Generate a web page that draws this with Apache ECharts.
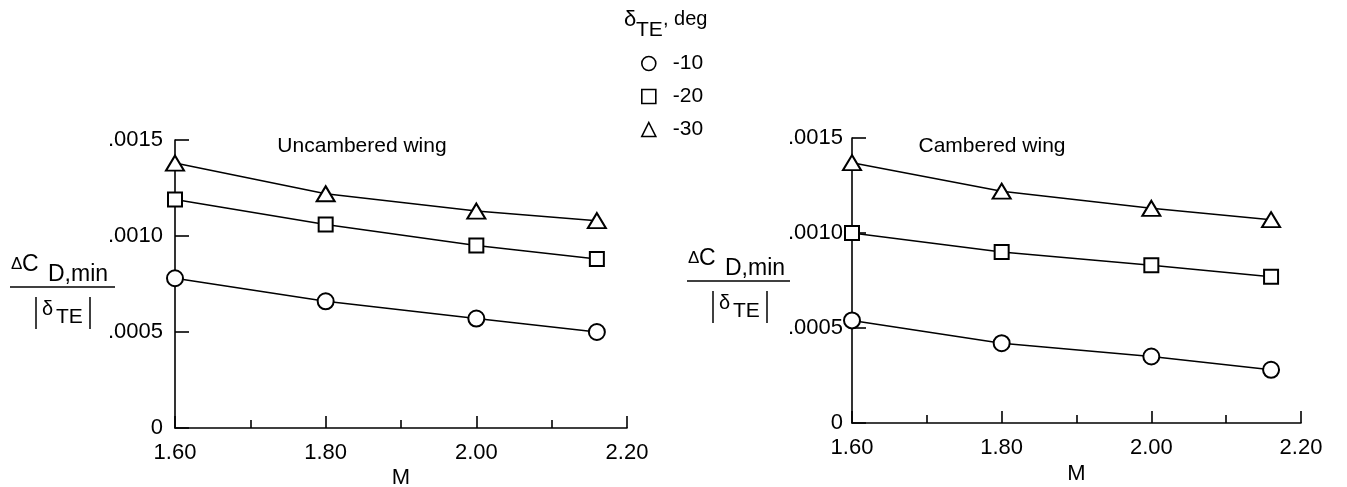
<!DOCTYPE html>
<html>
<head>
<meta charset="utf-8">
<script src="https://cdn.jsdelivr.net/npm/echarts@6/dist/echarts.min.js"></script>
<style>
  html, body { margin: 0; padding: 0; background: #fff; }
  #chart { width: 1347px; height: 487px; }
</style>
</head>
<body>
<div id="chart"></div>
<script>
// Mach numbers (x) and dCD,min/|dTE| values
var mach = [1.60, 1.80, 2.00, 2.16];
var uncamb10 = [0.00078, 0.00066, 0.00057, 0.00050];
var uncamb20 = [0.00119, 0.00106, 0.00095, 0.00088];
var uncamb30 = [0.00138, 0.00122, 0.00113, 0.00108];
var camb10 = [0.00054, 0.00042, 0.00035, 0.00028];
var camb20 = [0.00100, 0.00090, 0.00083, 0.00077];
var camb30 = [0.00137, 0.00122, 0.00113, 0.00107];
var deflections = ['-10', '-20', '-30'];
var symbols = ['emptyCircle', 'emptyRect', 'emptyTriangle'];
var symbolSizes = [16, 14, [18, 15]];

var FONT = 'Liberation Sans, Arial, sans-serif';

function pairs(ys) {
    return mach.map(function (m, i) { return [m, ys[i]]; });
}

function yLabel(v) {
    if (v === 0) return '0';
    return v.toFixed(4).replace(/^0/, '');
}

function xAxisFor(idx, gap) {
    return {
        type: 'value',
        gridIndex: idx,
        min: 1.6,
        max: 2.2,
        interval: 0.2,
        name: 'M',
        nameLocation: 'middle',
        nameGap: gap,
        nameMoveOverlap: false,
        nameTextStyle: { color: '#000', fontSize: 22, fontFamily: FONT },
        axisLine: { lineStyle: { color: '#000', width: 1.6 } },
        axisTick: { inside: true, length: 12, lineStyle: { color: '#000', width: 1.6 } },
        minorTick: { show: true, splitNumber: 2, length: 8, lineStyle: { color: '#000', width: 1.6 } },
        splitLine: { show: false },
        axisLabel: {
            margin: 14,
            color: '#000',
            fontSize: 22,
            fontFamily: FONT,
            formatter: function (v) { return v.toFixed(2); }
        }
    };
}

function yAxisFor(idx, margin) {
    return {
        type: 'value',
        gridIndex: idx,
        min: 0,
        max: 0.0015,
        interval: 0.0005,
        axisLine: { show: true, lineStyle: { color: '#000', width: 1.6 } },
        axisTick: { show: true, inside: true, length: 14, lineStyle: { color: '#000', width: 1.6 } },
        splitLine: { show: false },
        axisLabel: {
            margin: margin,
            color: '#000',
            fontSize: 22,
            fontFamily: FONT,
            formatter: yLabel
        }
    };
}

function seriesFor(idx, name, k, ys) {
    return {
        name: name,
        type: 'line',
        xAxisIndex: idx,
        yAxisIndex: idx,
        data: pairs(ys),
        symbol: symbols[k],
        symbolSize: symbolSizes[k],
        color: '#000',
        itemStyle: { color: '#000', borderWidth: 1.6 },
        lineStyle: { color: '#000', width: 1.5 },
        z: 3
    };
}

// fraction label dCD,min / |dTE| drawn as plain text pieces
function fraction(x0, lineY, width) {
    return [
        { type: 'text', x: x0 + 1, y: lineY - 31, style: { text: '\u0394', fontSize: 17, fontFamily: FONT, fill: '#000' } },
        { type: 'text', x: x0 + 12, y: lineY - 34, style: { text: 'C', fontSize: 23, fontFamily: FONT, fill: '#000' } },
        { type: 'text', x: x0 + 38, y: lineY - 24, style: { text: 'D,min', fontSize: 23, fontFamily: FONT, fill: '#000' } },
        { type: 'line', shape: { x1: x0, y1: lineY, x2: x0 + width, y2: lineY }, style: { stroke: '#000', lineWidth: 1.5 } },
        { type: 'line', shape: { x1: x0 + 26, y1: lineY + 10, x2: x0 + 26, y2: lineY + 42 }, style: { stroke: '#000', lineWidth: 1.5 } },
        { type: 'text', x: x0 + 32, y: lineY + 12, style: { text: '\u03b4', fontSize: 20, fontFamily: FONT, fill: '#000' } },
        { type: 'text', x: x0 + 46, y: lineY + 20, style: { text: 'TE', fontSize: 21, fontFamily: FONT, fill: '#000' } },
        { type: 'line', shape: { x1: x0 + 80, y1: lineY + 10, x2: x0 + 80, y2: lineY + 42 }, style: { stroke: '#000', lineWidth: 1.5 } }
    ];
}

var chart = echarts.init(document.getElementById('chart'));
var option = {
    backgroundColor: '#fff',
    animation: false,
    textStyle: { fontFamily: FONT },
    title: [
        { text: 'Uncambered wing', left: 357, top: 131, textAlign: 'center', textStyle: { fontSize: 21, fontWeight: 'normal', color: '#000', fontFamily: FONT } },
        { text: 'Cambered wing', left: 987, top: 131, textAlign: 'center', textStyle: { fontSize: 21, fontWeight: 'normal', color: '#000', fontFamily: FONT } }
    ],
    legend: {
        orient: 'vertical',
        left: 641,
        top: 53,
        padding: 0,
        itemWidth: 14,
        itemHeight: 14,
        itemGap: 12,
        data: [
            { name: '-10', icon: 'circle' },
            { name: '-20', icon: 'rect' },
            { name: '-30', icon: 'triangle' }
        ],
        itemStyle: { color: '#fff', borderColor: '#000', borderWidth: 1.6 },
        textStyle: { color: '#000', fontSize: 21, lineHeight: 20, fontFamily: FONT, padding: [0, 0, 0, 12] },
        selectedMode: false
    },
    grid: [
        { left: 175, right: 720, top: 140, bottom: 59, outerBoundsMode: 'none' },
        { left: 852, right: 46, top: 138, bottom: 64, outerBoundsMode: 'none' }
    ],
    xAxis: [xAxisFor(0, 39), xAxisFor(1, 40)],
    yAxis: [yAxisFor(0, 12), yAxisFor(1, 9)],
    series: [
        seriesFor(0, deflections[0], 0, uncamb10),
        seriesFor(0, deflections[1], 1, uncamb20),
        seriesFor(0, deflections[2], 2, uncamb30),
        seriesFor(1, deflections[0], 0, camb10),
        seriesFor(1, deflections[1], 1, camb20),
        seriesFor(1, deflections[2], 2, camb30)
    ],
    graphic: [
        { type: 'text', x: 624, y: 9, style: { text: '\u03b4', fontSize: 22, fontFamily: FONT, fill: '#000' } },
        { type: 'text', x: 636, y: 20, style: { text: 'TE', fontSize: 21, fontFamily: FONT, fill: '#000' } },
        { type: 'text', x: 663, y: 9, style: { text: ', deg', fontSize: 20, fontFamily: FONT, fill: '#000' } }
    ].concat(fraction(10, 287, 105)).concat(fraction(687, 281, 103))
};
chart.setOption(option);
window.addEventListener('resize', function () {
    chart.resize();
});
</script>
</body>
</html>
